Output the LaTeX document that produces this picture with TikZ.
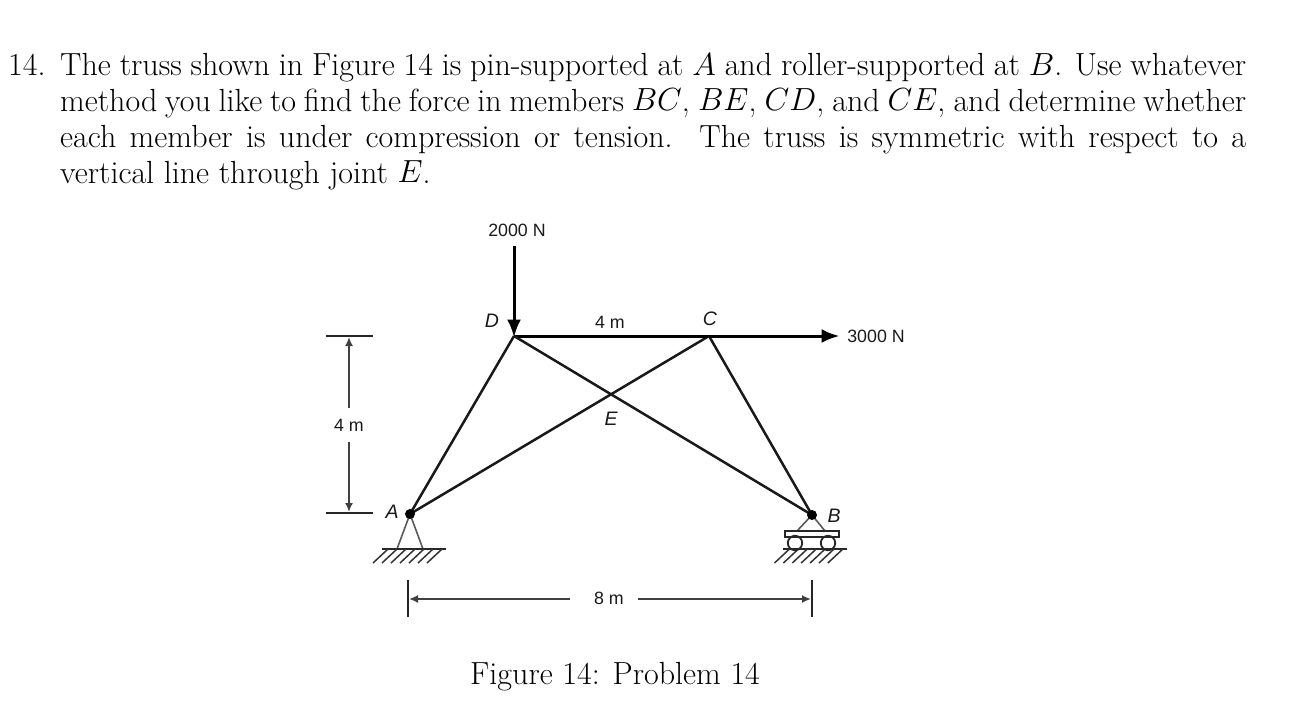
\RequirePackage{fix-cm}
\documentclass[tikz,border=0pt]{standalone}
\usepackage{fontspec}
\newfontfamily\figsans{Liberation Sans}
\usetikzlibrary{arrows.meta}
\DeclareMathSizes{32}{32}{23}{18}
\tikzset{
  member/.style={line width=2.5pt,black!90},
  topchord/.style={line width=3pt,black},
  force/.style={line width=3pt,black,-{Latex[length=18pt,width=14pt]},shorten >=-1.5pt},
  dimarrow/.style={line width=1.7pt,black!75,-{Latex[length=9pt,width=8pt]}},
  support/.style={line width=1.6pt,black!65},
  ground/.style={line width=1.8pt,black!85},
  hatch/.style={line width=1.5pt,black!80},
  figlabel/.style={font=\figsans\fontsize{17.8}{20}\selectfont,text=black!90,inner sep=0pt},
  figitalic/.style={font=\figsans\itshape\fontsize{19.5}{20}\selectfont,text=black!90,inner sep=0pt},
  bodytext/.style={font=\fontsize{32}{36}\selectfont,inner sep=0pt,anchor=base west}
}
\begin{document}
\begin{tikzpicture}[x=1pt,y=-1pt]
\useasboundingbox (0,0) rectangle (1290,709);
% Text
\node[bodytext] (num) at (8,75) {14.};
\node[bodytext,text width=1186pt,align=justify] (para) at (60,75)
 {The truss shown in Figure 14 is pin-supported at $A$ and roller-supported at $B$. Use whatever\linebreak
  method you like to find the force in members $BC$, $BE$, $CD$, and $CE$, and determine whether\linebreak
  each member is under compression or tension.\ \ The truss is symmetric with respect to a\linebreak
  vertical line through joint $E$.};
\node[bodytext] (cap) at (470,684) {Figure 14: Problem 14};
% Joints
\coordinate (A) at (410,514);
\coordinate (D) at (514,336);
\coordinate (C) at (709,336);
\coordinate (B) at (812,515);
\coordinate (Fd) at (514,246);
\coordinate (Fc) at (838,336);
% Supports
\coordinate (A1) at (397,549); \coordinate (A2) at (423,549);
\coordinate (B1) at (797,531); \coordinate (B2) at (825,531);
\draw[support] (A1) -- (A) -- (A2);
\draw[support] (B1) -- (B) -- (B2);
\draw[ground] (382,549) -- (446,549);
\foreach \i in {0,...,6} \draw[hatch] ({373+9*\i},563) -- ({388+9*\i},549);
\draw[ground] (783,549) -- (847,549);
\foreach \i in {0,...,6} \draw[hatch] ({774.5+8.9*\i},563) -- ({789.5+8.9*\i},549);
\draw[ground,fill=white] (785,531) rectangle (839,537);
\draw[ground] (795,543) circle (7.2);
\draw[ground] (828,543) circle (7.2);
% Members
\draw[member] (A) -- (D);
\draw[member] (A) -- (C);
\draw[topchord] (D) -- (C);
\draw[member] (D) -- (B);
\draw[member] (C) -- (B);
% Forces
\draw[force] (C) -- (Fc);
\draw[force] (Fd) -- (D);
\fill (A) circle (5);
\fill (B) circle (5);
% Dimensions
\coordinate (Vt) at (349,337); \coordinate (Vb) at (349,512);
\coordinate (Va) at (349,408); \coordinate (Vc) at (349,442);
\draw[ground] (326,336) -- (373,336);
\draw[ground] (326,513) -- (373,513);
\draw[dimarrow] (Va) -- (Vt);
\draw[dimarrow] (Vc) -- (Vb);
\coordinate (Hl) at (409,599); \coordinate (Hr) at (811,599);
\coordinate (Ha) at (570,599); \coordinate (Hc) at (638,599);
\draw[ground] (408,580) -- (408,617);
\draw[ground] (812,580) -- (812,617);
\draw[dimarrow] (Ha) -- (Hl);
\draw[dimarrow] (Hc) -- (Hr);
% Labels
\node[figlabel] (l2000) at (517,230) {2000 N};
\node[figlabel] (l3000) at (876,336) {3000 N};
\node[figlabel] (l4a) at (610,322) {4 m};
\node[figlabel] (l4b) at (349,425) {4 m};
\node[figlabel] (l8) at (609,598) {8 m};
\node[figitalic] (lA) at (392,512) {A};
\node[figitalic] (lB) at (834,516) {B};
\node[figitalic] (lC) at (710,319) {C};
\node[figitalic] (lD) at (492,321) {D};
\node[figitalic] (lE) at (611,419) {E};
\end{tikzpicture}
\end{document}
